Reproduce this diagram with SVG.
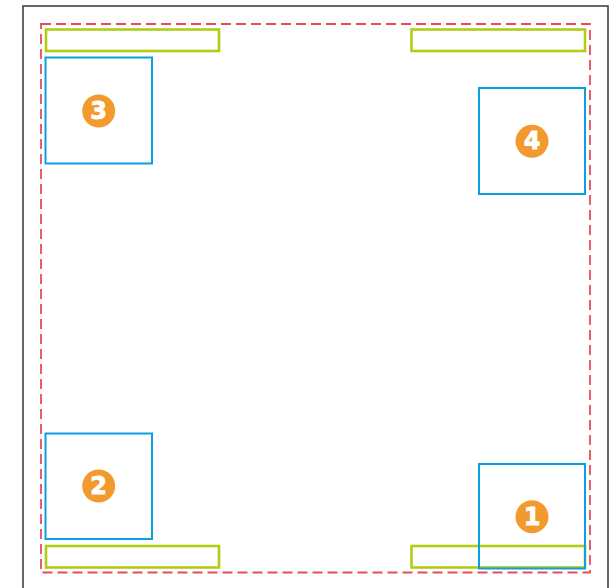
<svg xmlns="http://www.w3.org/2000/svg" width="615" height="588" viewBox="0 0 615 588">
<style>
.frame{fill:none;stroke:#3a3431;stroke-width:1.5}
.zone{fill:none;stroke:#e84c5a;stroke-width:1.8;stroke-dasharray:10 5}
.bar{fill:none;stroke:#b3cc12;stroke-width:2.6}
.box{fill:none;stroke:#0aa0e2;stroke-width:2}
.badge{fill:#f39a2f}
.num{fill:#fff;stroke:#fff;stroke-width:0.8;font-family:"DejaVu Sans","Liberation Sans",sans-serif;font-weight:bold;font-size:24px;text-anchor:middle;dominant-baseline:central}
</style>
<rect class="frame" x="23" y="6" width="585" height="600"/>
<rect class="zone" x="41" y="24" width="549" height="548.5"/>
<g id="bar-tl"><rect class="bar" x="46" y="29.5" width="173" height="21.5"/></g>
<g id="bar-tr"><rect class="bar" x="411.5" y="29.5" width="173.5" height="21.5"/></g>
<g id="bar-bl"><rect class="bar" x="46" y="546" width="173" height="21.5"/></g>
<g id="bar-br"><rect class="bar" x="411.5" y="546" width="173.5" height="21.5"/></g>
<g id="node3"><rect class="box" x="45.5" y="57.5" width="106.5" height="106"/><circle class="badge" cx="98.7" cy="111" r="16.5"/><text class="num" x="98.7" y="111">3</text></g>
<g id="node4"><rect class="box" x="479" y="88" width="106" height="106"/><circle class="badge" cx="532" cy="141.3" r="16.5"/><text class="num" x="532" y="141.3">4</text></g>
<g id="node2"><rect class="box" x="45.5" y="433.5" width="106.5" height="105.5"/><circle class="badge" cx="98.7" cy="486" r="16.5"/><text class="num" x="98.7" y="486">2</text></g>
<g id="node1"><rect class="box" x="479" y="464" width="106" height="104.5"/><circle class="badge" cx="532" cy="516.7" r="16.5"/><text class="num" x="532" y="516.7">1</text></g>
<g id="connectors"/>
</svg>
